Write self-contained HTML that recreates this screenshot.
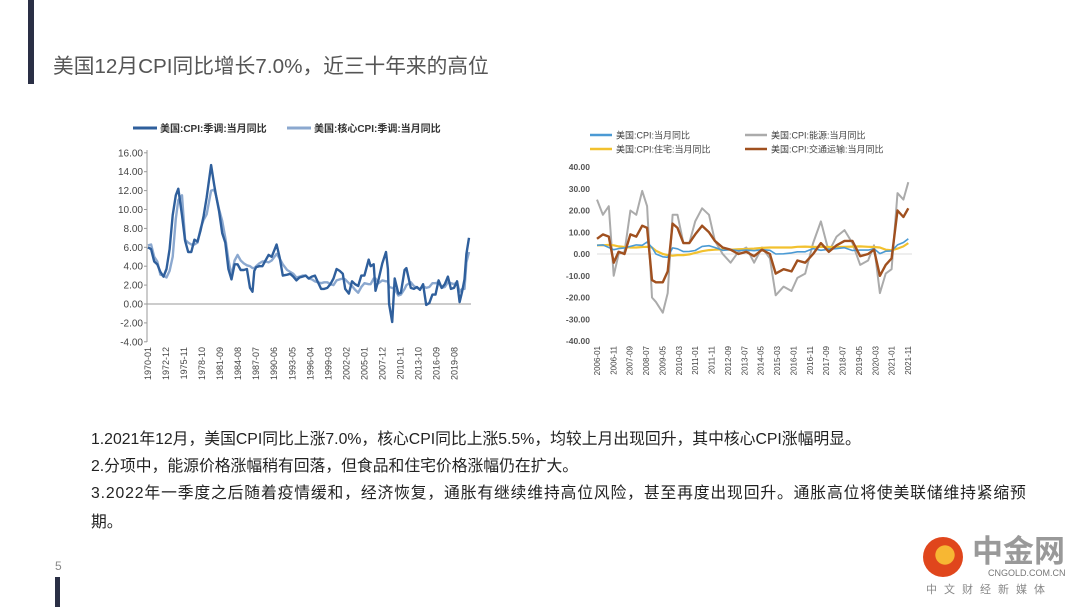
<!DOCTYPE html>
<html><head><meta charset="utf-8">
<style>
html,body{margin:0;padding:0;background:#fff;}
body{width:1080px;height:607px;position:relative;overflow:hidden;font-family:"Liberation Sans","Noto Sans CJK SC",sans-serif;}
.abs{position:absolute;}
.body-line{position:absolute;left:91px;font-size:15.8px;color:#222;white-space:nowrap;}
</style></head>
<body>
<div class="abs" style="left:28px;top:0;width:6px;height:84px;background:#2a2f45"></div>
<div class="abs" style="left:53px;top:49px;font-size:20.7px;color:#555;white-space:nowrap">美国12月CPI同比增长7.0%，近三十年来的高位</div>

<svg id="chart" class="abs" style="left:0;top:0" width="1080" height="400"></svg>

<div class="body-line" style="top:426px">1.2021年12月，美国CPI同比上涨7.0%，核心CPI同比上涨5.5%，均较上月出现回升，其中核心CPI涨幅明显。</div>
<div class="body-line" style="top:453px">2.分项中，能源价格涨幅稍有回落，但食品和住宅价格涨幅仍在扩大。</div>
<div class="body-line" style="top:480px;letter-spacing:0.85px">3.2022年一季度之后随着疫情缓和，经济恢复，通胀有继续维持高位风险，甚至再度出现回升。通胀高位将使美联储维持紧缩预</div>
<div class="body-line" style="top:509px">期。</div>

<div class="abs" style="left:55px;top:559px;font-size:12px;color:#888">5</div>
<div class="abs" style="left:55px;top:577px;width:5px;height:30px;background:#2a2f45"></div>

<div class="abs" style="left:923px;top:537px;width:40px;height:40px;border-radius:50%;background:radial-gradient(circle at 55% 45%,#f7b733 0 30%,#e0461c 32%)"></div>
<div class="abs" style="left:972px;top:534px;font-size:31px;line-height:36px;font-weight:bold;color:#999;letter-spacing:0px">中金网</div>
<div class="abs" style="left:988px;top:568px;font-size:9px;color:#777">CNGOLD.COM.CN</div>
<div class="abs" style="left:926px;top:581px;font-size:11px;color:#888;letter-spacing:7px;white-space:nowrap">中文财经新媒体</div>

<script>
// ---- Left chart data ----
const leftX = [1970,1970.5,1971,1971.5,1972,1972.5,1973,1973.5,1974,1974.5,1974.9,1975.5,1976,1976.5,1977,1977.5,1978,1978.5,1979,1979.5,1980.2,1980.7,1981,1981.5,1982,1982.5,1983,1983.5,1984,1984.5,1985,1985.5,1986,1986.5,1986.9,1987.2,1987.5,1988,1988.5,1989,1989.5,1990,1990.8,1991.3,1991.8,1992.5,1993,1993.5,1994,1994.5,1995,1995.5,1996,1996.5,1997,1997.5,1998,1998.5,1999,1999.5,2000,2000.5,2001,2001.5,2001.9,2002.5,2003,2003.5,2004,2004.5,2005,2005.7,2006,2006.5,2006.8,2007.3,2007.9,2008.5,2008.8,2009,2009.5,2009.9,2010.5,2010.9,2011.5,2011.8,2012.5,2013,2013.5,2014,2014.5,2015,2015.5,2016,2016.5,2017,2017.5,2018,2018.5,2019,2019.5,2020,2020.4,2020.8,2021.2,2021.5,2021.92];
const cpiAll = [6.0,5.8,4.5,4.2,3.4,2.9,3.7,5.8,9.4,11.5,12.2,9.4,6.7,5.5,5.5,6.8,6.6,7.8,9.3,11.3,14.7,12.6,11.5,9.8,7.5,6.5,3.7,2.6,4.2,4.2,3.6,3.6,3.7,1.7,1.3,3.5,3.9,4.0,4.0,4.6,5.2,5.0,6.3,4.9,3.0,3.1,3.2,2.9,2.5,2.8,2.9,3.0,2.7,2.9,3.0,2.3,1.6,1.6,1.7,2.1,2.7,3.7,3.5,3.2,1.6,1.1,2.4,2.1,1.9,3.0,3.0,4.7,4.0,4.2,1.4,2.6,4.3,5.5,3.7,0.0,-1.9,2.7,1.1,1.2,3.6,3.8,1.7,1.6,1.8,1.5,2.1,-0.1,0.1,1.0,1.0,2.5,1.7,2.1,2.9,1.6,1.7,2.4,0.2,1.3,2.6,5.3,7.0];
const cpiCore = [6.2,6.3,5.0,4.5,3.1,3.0,2.8,3.5,5.0,9.0,11.0,11.5,6.8,6.5,6.3,6.3,6.5,8.0,8.9,9.5,12.0,12.1,11.5,10.0,8.8,7.0,4.7,3.0,4.6,5.2,4.6,4.3,4.1,4.0,3.8,3.8,4.0,4.3,4.5,4.5,4.4,4.6,5.3,4.8,4.2,3.6,3.4,3.2,2.8,2.9,3.0,3.0,2.7,2.6,2.4,2.3,2.2,2.3,2.3,2.1,2.0,2.5,2.6,2.7,2.6,2.2,1.9,1.5,1.2,1.8,2.2,2.1,2.1,2.7,2.7,2.2,2.5,2.4,2.4,1.8,1.7,1.6,0.9,1.0,1.6,2.0,2.3,1.9,1.7,1.6,1.9,1.7,1.8,2.2,2.2,2.3,1.7,1.8,2.3,2.2,2.1,2.3,1.3,1.6,1.6,4.4,5.5];
const leftYTicks = [16,14,12,10,8,6,4,2,0,-2,-4];
const leftXLabels = ["1970-01","1972-12","1975-11","1978-10","1981-09","1984-08","1987-07","1990-06","1993-05","1996-04","1999-03","2002-02","2005-01","2007-12","2010-11","2013-10","2016-09","2019-08"];

// ---- Right chart data ----
const rightX = [2006.0,2006.3,2006.6,2006.85,2007.1,2007.4,2007.7,2008.0,2008.3,2008.55,2008.8,2009.0,2009.35,2009.6,2009.85,2010.1,2010.4,2010.7,2011.0,2011.35,2011.7,2012.0,2012.4,2012.8,2013.2,2013.6,2014.0,2014.4,2014.8,2015.1,2015.5,2015.9,2016.2,2016.6,2017.0,2017.4,2017.8,2018.2,2018.6,2019.0,2019.4,2019.8,2020.1,2020.4,2020.7,2021.0,2021.3,2021.6,2021.85];
const transport = [7,9,8,-4,1,0,9,8,13,12,-12,-13,-13,-8,14,12,5,5,9,13,10,6,3,2,0,1,-1,2,0,-9,-7,-8,-3,-4,0,5,1,4,6,6,-1,0,2,-10,-5,-2,20,17,21];
const energy = [25,18,22,-10,0,1,20,18,29,22,-20,-22,-27,-18,18,18,5,5,15,21,18,6,0,-4,1,3,-4,3,-2,-19,-15,-17,-11,-9,5,15,1,8,11,5,-5,-3,4,-18,-9,-7,28,25,33];
const cpiR = [4,4.2,3,2,2.5,2.8,3.5,4.2,4,5.5,3,0,-1.3,-1.5,2.8,2.4,1.1,1.2,1.6,3.5,3.8,3,1.7,2,1.5,1.8,1.5,2,1.7,0,0.1,0.5,1,1,2.5,1.7,2.2,2.5,2.9,1.6,1.8,1.8,2.4,0.2,1.3,1.4,4.2,5.3,7];
const housing = [4,4,4.2,4,3.5,3.2,3,3,3.2,3.3,3,1.5,0,-0.5,-0.8,-0.5,-0.5,-0.2,0.5,1.3,1.8,2,2.1,2,2.2,2.3,2.5,2.8,3,3,3,3,3.3,3.4,3.2,3.3,3.2,3.2,3.3,3.4,3.5,3.3,3.2,3,2,1.7,2.5,3.5,5];
const rightYTicks = [40,30,20,10,0,-10,-20,-30,-40];
const rightXLabels = ["2006-01","2006-11","2007-09","2008-07","2009-05","2010-03","2011-01","2011-11","2012-09","2013-07","2014-05","2015-03","2016-01","2016-11","2017-09","2018-07","2019-05","2020-03","2021-01","2021-11"];

const NS = "http://www.w3.org/2000/svg";
const svg = document.getElementById('chart');
function mk(tag, attrs, parent){const e=document.createElementNS(NS,tag);for(const k in attrs)e.setAttribute(k,attrs[k]);(parent||svg).appendChild(e);return e;}
function monthLabelYear(s){const p=s.split('-');return +p[0]+(+p[1]-1)/12;}

const lx = v => 148 + (v-1970)/(2021.92-1970)*(469-148);
const ly = v => 304 - v*(341-152)/20;
const rx = v => 597 + (v-2006)/(2021.833-2006)*(908-597);
const ry = v => 254 - v*(341-167)/80;

function path(xs, ys, fx, fy){return xs.map((x,i)=>(i?'L':'M')+fx(x).toFixed(1)+' '+fy(ys[i]).toFixed(1)).join(' ');}

// ---- LEFT CHART ----
let g = mk('g',{});


let a = mk('line',{x1:147,y1:150,x2:147,y2:342,stroke:'#999','stroke-width':1},g);


let z = mk('line',{x1:147,y1:ly(0),x2:471,y2:ly(0),stroke:'#999','stroke-width':1},g);


leftYTicks.forEach(v=>{
  const t = mk('text',{x:143,y:ly(v)+3.5,'text-anchor':'end','font-size':10,fill:'#444'},g);
  
  
  t.textContent=v.toFixed(2);
  mk('line',{x1:144,y1:ly(v),x2:147,y2:ly(v),stroke:'#999'},g);
});
leftXLabels.forEach(s=>{
  const x = lx(monthLabelYear(s));
  const t = mk('text',{x:0,y:0,'text-anchor':'end','font-size':9,fill:'#444',transform:`translate(${x+3},347) rotate(-90)`},g);
  
  
  t.textContent=s;
});
let p1 = mk('path',{d:path(leftX,cpiCore,lx,ly),fill:'none',stroke:'#8ba8cf','stroke-width':2.4,'stroke-linejoin':'round'},g);


let p2 = mk('path',{d:path(leftX,cpiAll,lx,ly),fill:'none',stroke:'#2f5f9c','stroke-width':2.4,'stroke-linejoin':'round'},g);


[[133,'#2f5f9c','美国:CPI:季调:当月同比'],[287,'#8ba8cf','美国:核心CPI:季调:当月同比']].forEach(([x,c,s])=>{
  const lg = mk('g',{},g);
  
  
  mk('line',{x1:x,y1:128,x2:x+24,y2:128,stroke:c,'stroke-width':3},lg);
  const t = mk('text',{x:x+27,y:132,'font-size':10,'font-weight':'bold',fill:'#333'},lg);
  t.textContent=s;
});

// ---- RIGHT CHART ----
g = mk('g',{});


z = mk('line',{x1:597,y1:ry(0),x2:912,y2:ry(0),stroke:'#ddd','stroke-width':1},g);


rightYTicks.forEach(v=>{
  const t = mk('text',{x:590,y:ry(v)+3,'text-anchor':'end','font-size':8.5,'font-weight':'bold',fill:'#555'},g);
  
  
  t.textContent=v.toFixed(2);
});
rightXLabels.forEach(s=>{
  const x = rx(monthLabelYear(s));
  const t = mk('text',{x:0,y:0,'text-anchor':'end','font-size':8,fill:'#444',transform:`translate(${x+3},346) rotate(-90)`},g);
  
  
  t.textContent=s;
});
const seriesR = [[energy,'#ababab',2,'energy-line'],[housing,'#f2c12e',2.2,'housing-line'],[cpiR,'#4b9ad4',1.6,'cpi-total-line'],[transport,'#a0501f',2.4,'transport-line']];
seriesR.forEach(([ys,c,w,n])=>{
  const p = mk('path',{d:path(rightX,ys,rx,ry),fill:'none',stroke:c,'stroke-width':w,'stroke-linejoin':'round'},g);
  
  
});
[[590,135,'#4b9ad4','美国:CPI:当月同比'],[745,135,'#ababab','美国:CPI:能源:当月同比'],[590,149,'#f2c12e','美国:CPI:住宅:当月同比'],[745,149,'#a0501f','美国:CPI:交通运输:当月同比']].forEach(([x,y,c,s])=>{
  const lg = mk('g',{},g);
  
  
  mk('line',{x1:x,y1:y,x2:x+22,y2:y,stroke:c,'stroke-width':2.5},lg);
  const t = mk('text',{x:x+26,y:y+3.5,'font-size':9,fill:'#444'},lg);
  t.textContent=s;
});
</script>
</body></html>
